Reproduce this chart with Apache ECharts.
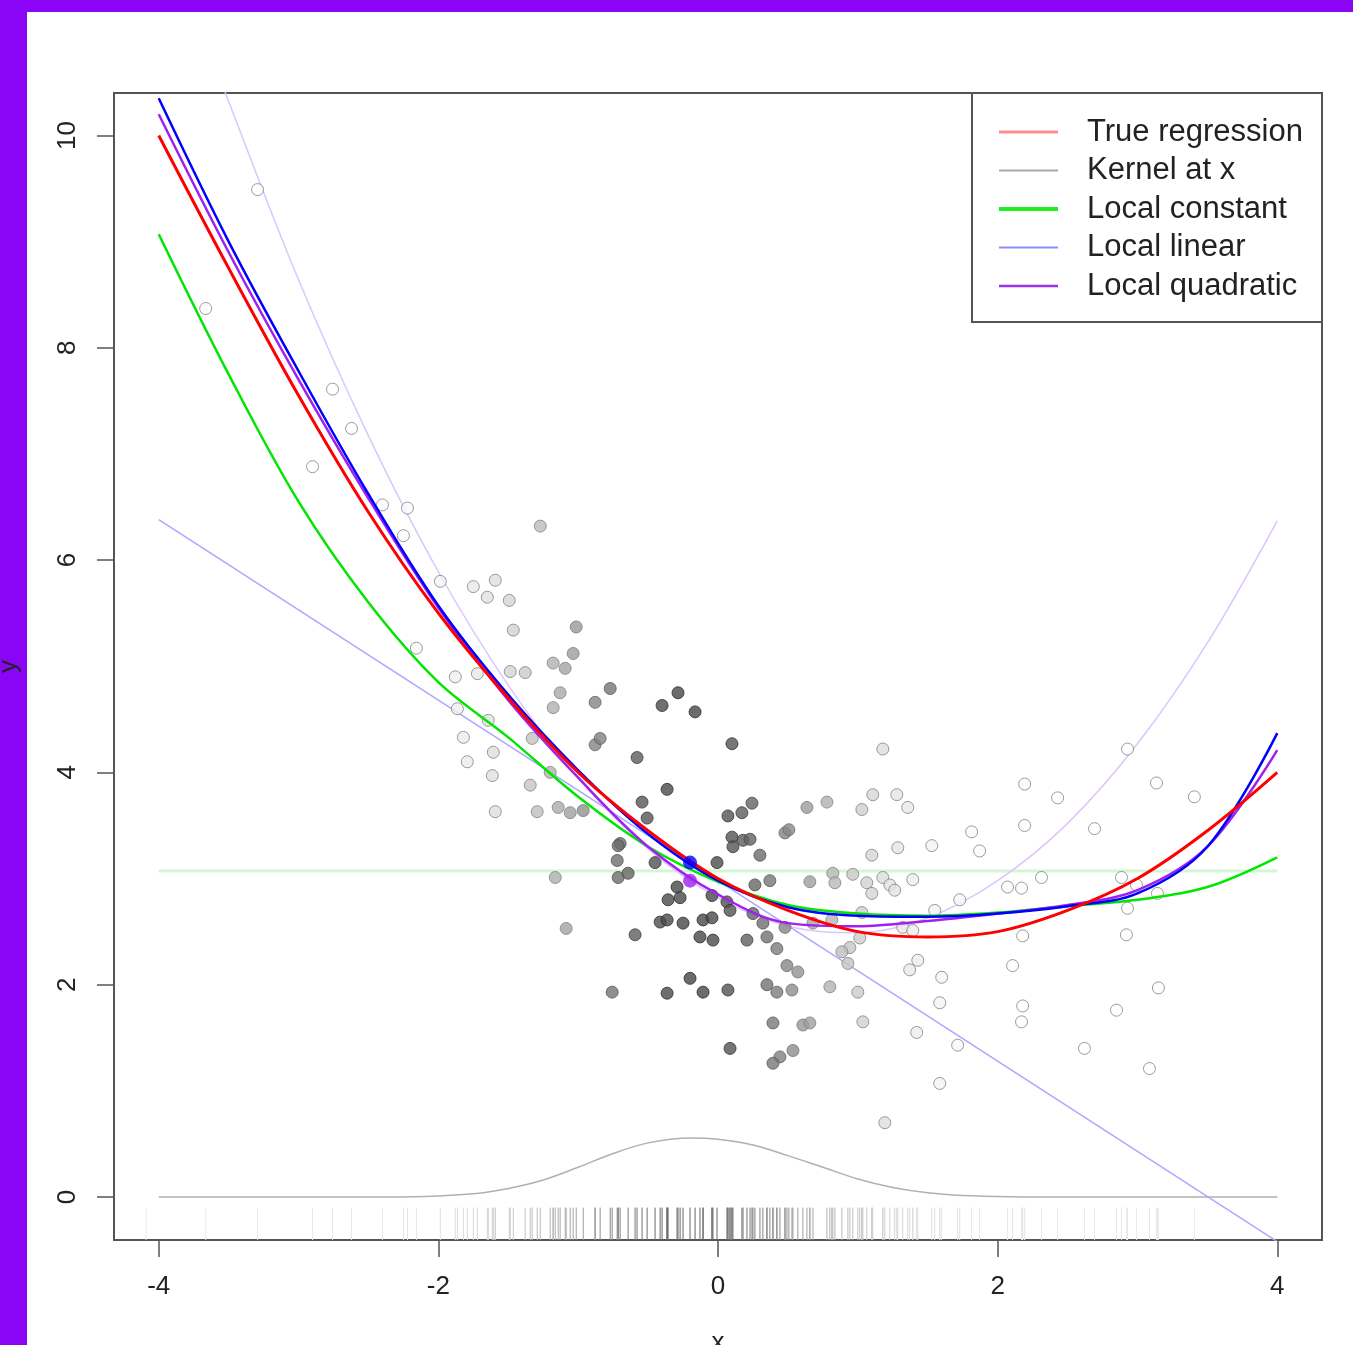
<!DOCTYPE html>
<html><head><meta charset="utf-8">
<script src="https://cdn.jsdelivr.net/npm/echarts@6/dist/echarts.min.js"></script>
<style>
html,body{margin:0;padding:0;width:1353px;height:1345px;overflow:hidden;background:#8a05f5;}
#paper{position:absolute;left:27px;top:12px;width:1326px;height:1333px;background:#fff;}
#chart{position:absolute;left:0;top:0;width:1353px;height:1345px;}
</style></head><body><div id="paper"></div><div id="chart"></div>
<script>
// ---- data ----
const xTicks = [-4, -2, 0, 2, 4];
const yTicks = [0, 2, 4, 6, 8, 10];
const x0 = -0.2;                 // evaluation point
const estLinearAtX0 = 3.15;      // local linear estimate at x0
const estQuadAtX0 = 2.98;        // local quadratic estimate at x0

const curveX     = [-4, -3.5, -3, -2.5, -2, -1.5, -1, -0.5, 0, 0.5, 1, 1.5, 2, 2.5, 3, 3.5, 4];
const trueReg    = [10.0, 8.75, 7.55, 6.45, 5.5, 4.7, 4.0, 3.45, 3.0, 2.7, 2.5, 2.45, 2.5, 2.7, 3.0, 3.45, 4.0];
const localConst = [9.07, 7.75, 6.55, 5.6, 4.85, 4.33, 3.77, 3.3, 2.97, 2.75, 2.67, 2.65, 2.68, 2.74, 2.8, 2.92, 3.2];
const localLin   = [10.35, 9.0, 7.78, 6.62, 5.57, 4.73, 4.02, 3.42, 2.98, 2.73, 2.65, 2.64, 2.67, 2.74, 2.86, 3.3, 4.37];
const localQuad  = [10.2, 8.9, 7.7, 6.58, 5.55, 4.68, 3.95, 3.3, 2.85, 2.58, 2.55, 2.6, 2.67, 2.75, 2.89, 3.3, 4.21];

const kernelX = [-4, -3, -2.5, -2.1, -1.75, -1.5, -1.25, -1, -0.75, -0.5, -0.2, 0, 0.25, 0.5, 0.75, 1, 1.25, 1.5, 1.75, 2.1, 2.5, 3, 4];
const kernelY = [0, 0, 0, 0.005, 0.03, 0.08, 0.16, 0.28, 0.41, 0.51, 0.557, 0.545, 0.49, 0.39, 0.28, 0.17, 0.09, 0.04, 0.015, 0.003, 0, 0, 0];

const constFitX = [-4, 4];
const constFitY = [3.07, 3.07];
const linFitX = [-4, 4];
const linFitY = [6.38, -0.42];
const quadFitX = [-3.6, -3.5, -3, -2.5, -2, -1.5, -1, -0.5, 0, 0.5, 1, 1.5, 2, 2.5, 3, 3.5, 4];
const quadFitY = [10.68, 10.32, 8.64, 7.17, 5.89, 4.82, 3.95, 3.28, 2.82, 2.55, 2.49, 2.63, 2.98, 3.52, 4.27, 5.22, 6.37];

const ptsX = [-3.293,-3.664,-2.757,-2.621,-2.900,-2.400,-2.221,-2.250,-2.157,-1.986,-1.271,-1.750,-1.593,-1.650,-1.493,-1.464,-1.014,-1.036,-1.179,-1.093,-1.486,-1.379,-1.879,-1.721,-1.129,-0.771,-1.179,-0.879,-0.286,-0.400,-0.164,-1.864,-1.643,-1.821,-1.329,-0.879,-0.843,-1.607,-1.793,-0.579,-1.614,-1.200,-1.343,-0.364,-0.543,-1.593,-1.293,-1.143,-1.057,-0.964,-0.507,-0.700,0.100,0.071,0.171,0.243,0.100,0.107,0.179,0.229,0.300,-0.714,-0.721,-0.714,-0.643,-0.450,-0.007,-0.293,-0.357,-0.271,-0.043,0.064,0.086,0.264,0.371,0.657,0.250,0.350,0.421,0.479,-0.593,-0.414,-0.364,-0.250,-0.107,-0.043,-0.129,-0.036,0.207,0.493,0.571,-0.200,-0.107,-0.364,0.071,-0.757,0.350,0.421,0.529,0.800,0.393,0.607,0.657,0.086,0.536,0.443,0.393,-1.086,-1.164,
1.179,0.636,0.779,1.107,1.279,1.357,1.029,0.479,0.507,1.814,1.871,1.286,1.100,1.529,0.821,0.836,0.964,1.064,1.179,1.229,1.264,1.393,1.100,2.071,1.729,1.029,1.550,0.321,0.679,0.814,1.321,1.393,1.014,0.943,0.886,0.929,1.429,1.371,1.600,2.107,1.000,1.586,1.036,1.421,1.714,1.586,1.193,
2.929,2.193,3.136,2.429,3.407,2.193,2.693,2.314,2.886,2.171,2.993,3.143,2.929,2.179,2.921,3.150,2.179,2.171,2.850,2.621,3.086];
const ptsY = [9.49,8.37,7.61,7.24,6.88,6.52,6.49,6.23,5.17,5.80,6.32,5.75,5.81,5.65,5.62,5.34,5.37,5.12,5.03,4.98,4.95,4.94,4.90,4.93,4.75,4.79,4.61,4.66,4.75,4.63,4.57,4.60,4.49,4.33,4.32,4.26,4.32,4.19,4.10,4.14,3.97,4.00,3.88,3.84,3.72,3.63,3.63,3.67,3.62,3.64,3.57,3.33,4.27,3.59,3.62,3.71,3.39,3.30,3.36,3.37,3.22,3.31,3.17,3.01,3.05,3.15,3.15,2.92,2.80,2.82,2.84,2.78,2.70,2.94,2.98,2.97,2.67,2.45,2.34,2.54,2.47,2.59,2.61,2.58,2.61,2.63,2.45,2.42,2.42,2.18,2.12,2.06,1.93,1.92,1.95,1.93,2.00,1.93,1.95,1.98,1.64,1.62,1.64,1.40,1.38,1.32,1.26,2.53,3.01,
4.22,3.67,3.72,3.79,3.79,3.67,3.65,3.43,3.46,3.44,3.26,3.29,3.22,3.31,3.05,2.96,3.04,2.96,3.01,2.94,2.89,2.99,2.86,2.92,2.80,2.68,2.70,2.58,2.58,2.61,2.54,2.51,2.44,2.35,2.31,2.20,2.23,2.14,2.07,2.18,1.93,1.83,1.65,1.55,1.43,1.07,0.70,
4.22,3.89,3.90,3.76,3.77,3.50,3.47,3.01,3.01,2.91,2.94,2.86,2.72,2.46,2.47,1.97,1.80,1.65,1.76,1.40,1.21];
const rugOnlyX = [-4.09];

// ---- styling helpers ----
const X_MIN = -4.32, X_MAX = 4.32, Y_MIN = -0.405, Y_MAX = 10.40;
const RUG_TOP = -0.1;
function weight(x) { const d = (x - x0) / 0.75; return Math.exp(-0.5 * d * d); }
function grey(v) { v = Math.max(0, Math.min(255, Math.round(v))); return 'rgb(' + v + ',' + v + ',' + v + ')'; }
const FONT = "'Liberation Sans', Arial, sans-serif";

const scatterData = ptsX.map((x, i) => {
  const g = 255 - 185 * weight(x);
  return { value: [x, ptsY[i]], itemStyle: { color: grey(g), borderColor: grey(Math.min(g - 30, 130)) } };
});
const rugData = ptsX.concat(rugOnlyX).map(x => [x, 0]);
const pairs = (xs, ys) => xs.map((x, i) => [x, ys[i]]);

const chart = echarts.init(document.getElementById('chart'), null, { renderer: 'canvas' });

function lineSeries(name, data, color, width, z) {
  return { name, type: 'line', data, showSymbol: false, smooth: 0.35,
    lineStyle: { color, width }, itemStyle: { color }, z, silent: true, animation: false };
}

const legendRows = [
  { label: 'True regression', color: '#ff8f8f', width: 3 },
  { label: 'Kernel at x', color: '#aaaaaa', width: 2 },
  { label: 'Local constant', color: '#22ee22', width: 4 },
  { label: 'Local linear', color: '#8c8cff', width: 2 },
  { label: 'Local quadratic', color: '#9a30f0', width: 2.5 }
];
const legendGraphics = [{
  type: 'rect', z: 100, shape: { x: 972, y: 93, width: 350, height: 229 },
  style: { fill: '#fff', stroke: '#555', lineWidth: 2 }
}];
legendRows.forEach((r, i) => {
  const yy = 132 + i * 38.5;
  legendGraphics.push({ type: 'line', z: 101, shape: { x1: 999, y1: yy, x2: 1058, y2: yy },
    style: { stroke: r.color, lineWidth: r.width } });
  legendGraphics.push({ type: 'text', z: 101, x: 1087, y: yy,
    style: { text: r.label, fill: '#222', font: '31px ' + FONT, verticalAlign: 'middle' } });
});

chart.setOption({
  animation: false,
  textStyle: { fontFamily: FONT },
  grid: { left: 114, top: 93, width: 1208, height: 1147, show: true, borderColor: '#555', borderWidth: 2,
    backgroundColor: 'transparent', outerBoundsMode: 'none', containLabel: false },
  xAxis: {
    type: 'value', min: X_MIN, max: X_MAX,
    axisLine: { show: false, onZero: false },
    axisTick: { show: true, customValues: xTicks, length: 17, lineStyle: { color: '#555', width: 1.5 } },
    axisLabel: { customValues: xTicks, margin: 34, fontSize: 26, color: '#222', fontFamily: FONT },
    splitLine: { show: false },
    name: 'x', nameLocation: 'middle', nameGap: 90, nameTextStyle: { fontSize: 26, color: '#222', fontFamily: FONT }
  },
  yAxis: {
    type: 'value', min: Y_MIN, max: Y_MAX,
    axisLine: { show: false, onZero: false },
    axisTick: { show: true, customValues: yTicks, length: 17, lineStyle: { color: '#555', width: 1.5 } },
    axisLabel: { customValues: yTicks, rotate: 90, margin: 33, fontSize: 26, color: '#222', fontFamily: FONT },
    splitLine: { show: false },
    name: 'y', nameLocation: 'middle', nameGap: 92, nameTextStyle: { fontSize: 26, color: '#222', fontFamily: FONT }
  },
  graphic: legendGraphics,
  series: [
    {
      name: 'rug', type: 'custom', data: rugData, z: 2, silent: true,
      renderItem: function (params, api) {
        const x = api.value(0);
        const p1 = api.coord([x, Y_MIN]);
        const p2 = api.coord([x, RUG_TOP]);
        return { type: 'line', shape: { x1: p1[0], y1: p1[1], x2: p2[0], y2: p2[1] },
          style: { stroke: grey(232 - 130 * weight(x)), lineWidth: 1 } };
      }
    },
    lineSeries('Kernel at x', pairs(kernelX, kernelY), '#b0b0b0', 1.5, 3),
    lineSeries('const fit', pairs(constFitX, constFitY), '#d2f7d2', 3, 3),
    lineSeries('linear fit', pairs(linFitX, linFitY), '#a8a8ff', 1.5, 3),
    lineSeries('quad fit', pairs(quadFitX, quadFitY), '#dcc4ff', 1.5, 3),
    {
      name: 'points', type: 'scatter', data: scatterData, symbol: 'circle', symbolSize: 12, z: 4, silent: true,
      itemStyle: { borderWidth: 1 }
    },
    lineSeries('Local constant', pairs(curveX, localConst), '#00e600', 2.5, 5),
    lineSeries('Local quadratic', pairs(curveX, localQuad), '#a020f0', 2.5, 5),
    lineSeries('Local linear', pairs(curveX, localLin), '#0000ff', 2.5, 5),
    lineSeries('True regression', pairs(curveX, trueReg), '#ff0000', 3, 5),
    {
      name: 'estimates', type: 'scatter', z: 6, silent: true, symbolSize: 14,
      data: [
        { value: [x0, estLinearAtX0], itemStyle: { color: '#0000ff' } },
        { value: [x0, estQuadAtX0], itemStyle: { color: '#a020f0' } }
      ]
    }
  ]
});
</script></body></html>
